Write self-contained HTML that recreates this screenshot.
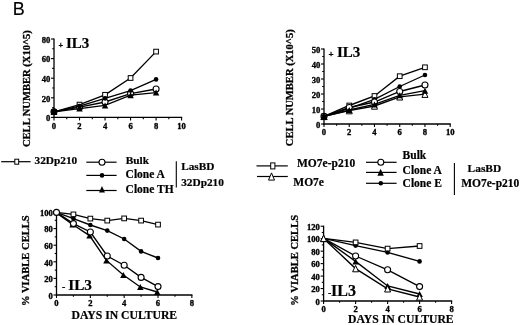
<!DOCTYPE html>
<html><head><meta charset="utf-8"><title>Figure B</title>
<style>html,body{margin:0;padding:0;background:#fff}svg{display:block}</style></head>
<body>
<svg width="520" height="325" viewBox="0 0 520 325">
<rect width="520" height="325" fill="#fff"/>
<text x="12.80" y="15.20" font-size="17.5" font-weight="normal" text-anchor="start" font-family='"Liberation Sans", sans-serif' stroke="#000" stroke-width="0.15" textLength="12" lengthAdjust="spacingAndGlyphs">B</text>
<line x1="54.00" y1="38.40" x2="54.00" y2="118.00" stroke="#000" stroke-width="1.3"/>
<line x1="53.40" y1="117.40" x2="182.20" y2="117.40" stroke="#000" stroke-width="1.3"/>
<line x1="54.00" y1="117.40" x2="54.00" y2="120.40" stroke="#000" stroke-width="1.1"/>
<text x="54.00" y="128.60" font-size="8.6" font-weight="bold" text-anchor="middle" font-family='"Liberation Serif", serif' stroke="#000" stroke-width="0.35">0</text>
<line x1="66.76" y1="117.40" x2="66.76" y2="119.20" stroke="#000" stroke-width="1.1"/>
<line x1="79.52" y1="117.40" x2="79.52" y2="120.40" stroke="#000" stroke-width="1.1"/>
<text x="79.52" y="128.60" font-size="8.6" font-weight="bold" text-anchor="middle" font-family='"Liberation Serif", serif' stroke="#000" stroke-width="0.35">2</text>
<line x1="92.28" y1="117.40" x2="92.28" y2="119.20" stroke="#000" stroke-width="1.1"/>
<line x1="105.04" y1="117.40" x2="105.04" y2="120.40" stroke="#000" stroke-width="1.1"/>
<text x="105.04" y="128.60" font-size="8.6" font-weight="bold" text-anchor="middle" font-family='"Liberation Serif", serif' stroke="#000" stroke-width="0.35">4</text>
<line x1="117.80" y1="117.40" x2="117.80" y2="119.20" stroke="#000" stroke-width="1.1"/>
<line x1="130.56" y1="117.40" x2="130.56" y2="120.40" stroke="#000" stroke-width="1.1"/>
<text x="130.56" y="128.60" font-size="8.6" font-weight="bold" text-anchor="middle" font-family='"Liberation Serif", serif' stroke="#000" stroke-width="0.35">6</text>
<line x1="143.32" y1="117.40" x2="143.32" y2="119.20" stroke="#000" stroke-width="1.1"/>
<line x1="156.08" y1="117.40" x2="156.08" y2="120.40" stroke="#000" stroke-width="1.1"/>
<text x="156.08" y="128.60" font-size="8.6" font-weight="bold" text-anchor="middle" font-family='"Liberation Serif", serif' stroke="#000" stroke-width="0.35">8</text>
<line x1="168.84" y1="117.40" x2="168.84" y2="119.20" stroke="#000" stroke-width="1.1"/>
<line x1="181.60" y1="117.40" x2="181.60" y2="120.40" stroke="#000" stroke-width="1.1"/>
<text x="181.60" y="128.60" font-size="8.6" font-weight="bold" text-anchor="middle" font-family='"Liberation Serif", serif' stroke="#000" stroke-width="0.35">10</text>
<line x1="54.00" y1="117.40" x2="51.00" y2="117.40" stroke="#000" stroke-width="1.1"/>
<text x="50.30" y="121.10" font-size="8.6" font-weight="bold" text-anchor="end" font-family='"Liberation Serif", serif' stroke="#000" stroke-width="0.35">0</text>
<line x1="54.00" y1="107.60" x2="52.20" y2="107.60" stroke="#000" stroke-width="1.1"/>
<line x1="54.00" y1="97.80" x2="51.00" y2="97.80" stroke="#000" stroke-width="1.1"/>
<text x="50.30" y="101.50" font-size="8.6" font-weight="bold" text-anchor="end" font-family='"Liberation Serif", serif' stroke="#000" stroke-width="0.35">20</text>
<line x1="54.00" y1="88.00" x2="52.20" y2="88.00" stroke="#000" stroke-width="1.1"/>
<line x1="54.00" y1="78.20" x2="51.00" y2="78.20" stroke="#000" stroke-width="1.1"/>
<text x="50.30" y="81.90" font-size="8.6" font-weight="bold" text-anchor="end" font-family='"Liberation Serif", serif' stroke="#000" stroke-width="0.35">40</text>
<line x1="54.00" y1="68.40" x2="52.20" y2="68.40" stroke="#000" stroke-width="1.1"/>
<line x1="54.00" y1="58.60" x2="51.00" y2="58.60" stroke="#000" stroke-width="1.1"/>
<text x="50.30" y="62.30" font-size="8.6" font-weight="bold" text-anchor="end" font-family='"Liberation Serif", serif' stroke="#000" stroke-width="0.35">60</text>
<line x1="54.00" y1="48.80" x2="52.20" y2="48.80" stroke="#000" stroke-width="1.1"/>
<line x1="54.00" y1="39.00" x2="51.00" y2="39.00" stroke="#000" stroke-width="1.1"/>
<text x="50.30" y="42.70" font-size="8.6" font-weight="bold" text-anchor="end" font-family='"Liberation Serif", serif' stroke="#000" stroke-width="0.35">80</text>
<polyline fill="none" stroke="#000" stroke-width="1.35" points="54.00,111.80 79.52,104.60 105.04,94.80 130.56,78.00 156.08,51.60"/>
<rect x="51.65" y="109.45" width="4.7" height="4.7" fill="#fff" stroke="#000" stroke-width="1.0"/>
<rect x="77.17" y="102.25" width="4.7" height="4.7" fill="#fff" stroke="#000" stroke-width="1.0"/>
<rect x="102.69" y="92.45" width="4.7" height="4.7" fill="#fff" stroke="#000" stroke-width="1.0"/>
<rect x="128.21" y="75.65" width="4.7" height="4.7" fill="#fff" stroke="#000" stroke-width="1.0"/>
<rect x="153.73" y="49.25" width="4.7" height="4.7" fill="#fff" stroke="#000" stroke-width="1.0"/>
<polyline fill="none" stroke="#000" stroke-width="1.35" points="54.00,111.80 79.52,107.20 105.04,102.00 130.56,93.60 156.08,89.00"/>
<circle cx="54.00" cy="111.80" r="3.0" fill="#fff" stroke="#000" stroke-width="1.1"/>
<circle cx="79.52" cy="107.20" r="3.0" fill="#fff" stroke="#000" stroke-width="1.1"/>
<circle cx="105.04" cy="102.00" r="3.0" fill="#fff" stroke="#000" stroke-width="1.1"/>
<circle cx="130.56" cy="93.60" r="3.0" fill="#fff" stroke="#000" stroke-width="1.1"/>
<circle cx="156.08" cy="89.00" r="3.0" fill="#fff" stroke="#000" stroke-width="1.1"/>
<polyline fill="none" stroke="#000" stroke-width="1.35" points="54.00,111.80 79.52,106.20 105.04,98.40 130.56,90.60 156.08,79.40"/>
<circle cx="54.00" cy="111.80" r="2.3" fill="#000"/>
<circle cx="79.52" cy="106.20" r="2.3" fill="#000"/>
<circle cx="105.04" cy="98.40" r="2.3" fill="#000"/>
<circle cx="130.56" cy="90.60" r="2.3" fill="#000"/>
<circle cx="156.08" cy="79.40" r="2.3" fill="#000"/>
<polyline fill="none" stroke="#000" stroke-width="1.35" points="54.00,111.80 79.52,108.60 105.04,105.40 130.56,95.20 156.08,92.60"/>
<polygon points="54.00,108.80 57.25,114.80 50.75,114.80" fill="#000"/>
<polygon points="79.52,105.60 82.77,111.60 76.27,111.60" fill="#000"/>
<polygon points="105.04,102.40 108.29,108.40 101.79,108.40" fill="#000"/>
<polygon points="130.56,92.20 133.81,98.20 127.31,98.20" fill="#000"/>
<polygon points="156.08,89.60 159.33,95.60 152.83,95.60" fill="#000"/>
<circle cx="54.00" cy="111.60" r="2.9" fill="#000"/>
<polygon points="54.00,108.20 57.40,114.60 50.60,114.60" fill="#000"/>
<text x="58.40" y="48.40" font-size="8" font-weight="bold" text-anchor="start" font-family='"Liberation Serif", serif' stroke="#000" stroke-width="0.35">+</text>
<text x="66.00" y="48.00" font-size="15" font-weight="bold" text-anchor="start" font-family='"Liberation Serif", serif' stroke="#000" stroke-width="0.2">IL3</text>
<text transform="translate(30.00,88.60) rotate(-90)" font-size="10.55" font-weight="bold" text-anchor="middle" font-family='"Liberation Serif", serif' stroke="#000" stroke-width="0.3">CELL NUMBER (X10^5)</text>
<line x1="324.00" y1="48.40" x2="324.00" y2="124.60" stroke="#000" stroke-width="1.3"/>
<line x1="323.40" y1="124.00" x2="450.80" y2="124.00" stroke="#000" stroke-width="1.3"/>
<line x1="324.00" y1="124.00" x2="324.00" y2="127.00" stroke="#000" stroke-width="1.1"/>
<text x="324.00" y="135.20" font-size="8.6" font-weight="bold" text-anchor="middle" font-family='"Liberation Serif", serif' stroke="#000" stroke-width="0.35">0</text>
<line x1="336.62" y1="124.00" x2="336.62" y2="125.80" stroke="#000" stroke-width="1.1"/>
<line x1="349.24" y1="124.00" x2="349.24" y2="127.00" stroke="#000" stroke-width="1.1"/>
<text x="349.24" y="135.20" font-size="8.6" font-weight="bold" text-anchor="middle" font-family='"Liberation Serif", serif' stroke="#000" stroke-width="0.35">2</text>
<line x1="361.86" y1="124.00" x2="361.86" y2="125.80" stroke="#000" stroke-width="1.1"/>
<line x1="374.48" y1="124.00" x2="374.48" y2="127.00" stroke="#000" stroke-width="1.1"/>
<text x="374.48" y="135.20" font-size="8.6" font-weight="bold" text-anchor="middle" font-family='"Liberation Serif", serif' stroke="#000" stroke-width="0.35">4</text>
<line x1="387.10" y1="124.00" x2="387.10" y2="125.80" stroke="#000" stroke-width="1.1"/>
<line x1="399.72" y1="124.00" x2="399.72" y2="127.00" stroke="#000" stroke-width="1.1"/>
<text x="399.72" y="135.20" font-size="8.6" font-weight="bold" text-anchor="middle" font-family='"Liberation Serif", serif' stroke="#000" stroke-width="0.35">6</text>
<line x1="412.34" y1="124.00" x2="412.34" y2="125.80" stroke="#000" stroke-width="1.1"/>
<line x1="424.96" y1="124.00" x2="424.96" y2="127.00" stroke="#000" stroke-width="1.1"/>
<text x="424.96" y="135.20" font-size="8.6" font-weight="bold" text-anchor="middle" font-family='"Liberation Serif", serif' stroke="#000" stroke-width="0.35">8</text>
<line x1="437.58" y1="124.00" x2="437.58" y2="125.80" stroke="#000" stroke-width="1.1"/>
<line x1="450.20" y1="124.00" x2="450.20" y2="127.00" stroke="#000" stroke-width="1.1"/>
<text x="450.20" y="135.20" font-size="8.6" font-weight="bold" text-anchor="middle" font-family='"Liberation Serif", serif' stroke="#000" stroke-width="0.35">10</text>
<line x1="324.00" y1="124.00" x2="321.00" y2="124.00" stroke="#000" stroke-width="1.1"/>
<text x="320.30" y="127.70" font-size="8.6" font-weight="bold" text-anchor="end" font-family='"Liberation Serif", serif' stroke="#000" stroke-width="0.35">0</text>
<line x1="324.00" y1="116.50" x2="322.20" y2="116.50" stroke="#000" stroke-width="1.1"/>
<line x1="324.00" y1="109.00" x2="321.00" y2="109.00" stroke="#000" stroke-width="1.1"/>
<text x="320.30" y="112.70" font-size="8.6" font-weight="bold" text-anchor="end" font-family='"Liberation Serif", serif' stroke="#000" stroke-width="0.35">10</text>
<line x1="324.00" y1="101.50" x2="322.20" y2="101.50" stroke="#000" stroke-width="1.1"/>
<line x1="324.00" y1="94.00" x2="321.00" y2="94.00" stroke="#000" stroke-width="1.1"/>
<text x="320.30" y="97.70" font-size="8.6" font-weight="bold" text-anchor="end" font-family='"Liberation Serif", serif' stroke="#000" stroke-width="0.35">20</text>
<line x1="324.00" y1="86.50" x2="322.20" y2="86.50" stroke="#000" stroke-width="1.1"/>
<line x1="324.00" y1="79.00" x2="321.00" y2="79.00" stroke="#000" stroke-width="1.1"/>
<text x="320.30" y="82.70" font-size="8.6" font-weight="bold" text-anchor="end" font-family='"Liberation Serif", serif' stroke="#000" stroke-width="0.35">30</text>
<line x1="324.00" y1="71.50" x2="322.20" y2="71.50" stroke="#000" stroke-width="1.1"/>
<line x1="324.00" y1="64.00" x2="321.00" y2="64.00" stroke="#000" stroke-width="1.1"/>
<text x="320.30" y="67.70" font-size="8.6" font-weight="bold" text-anchor="end" font-family='"Liberation Serif", serif' stroke="#000" stroke-width="0.35">40</text>
<line x1="324.00" y1="56.50" x2="322.20" y2="56.50" stroke="#000" stroke-width="1.1"/>
<line x1="324.00" y1="49.00" x2="321.00" y2="49.00" stroke="#000" stroke-width="1.1"/>
<text x="320.30" y="52.70" font-size="8.6" font-weight="bold" text-anchor="end" font-family='"Liberation Serif", serif' stroke="#000" stroke-width="0.35">50</text>
<polyline fill="none" stroke="#000" stroke-width="1.35" points="324.00,116.40 349.24,110.60 374.48,106.00 399.72,96.80 424.96,94.20"/>
<polygon points="324.00,113.20 327.00,119.60 321.00,119.60" fill="#fff" stroke="#000" stroke-width="1.0"/>
<polygon points="349.24,107.40 352.24,113.80 346.24,113.80" fill="#fff" stroke="#000" stroke-width="1.0"/>
<polygon points="374.48,102.80 377.48,109.20 371.48,109.20" fill="#fff" stroke="#000" stroke-width="1.0"/>
<polygon points="399.72,93.60 402.72,100.00 396.72,100.00" fill="#fff" stroke="#000" stroke-width="1.0"/>
<polygon points="424.96,91.00 427.96,97.40 421.96,97.40" fill="#fff" stroke="#000" stroke-width="1.0"/>
<polyline fill="none" stroke="#000" stroke-width="1.35" points="324.00,116.40 349.24,105.50 374.48,96.00 399.72,76.20 424.96,67.30"/>
<rect x="321.65" y="114.05" width="4.7" height="4.7" fill="#fff" stroke="#000" stroke-width="1.0"/>
<rect x="346.89" y="103.15" width="4.7" height="4.7" fill="#fff" stroke="#000" stroke-width="1.0"/>
<rect x="372.13" y="93.65" width="4.7" height="4.7" fill="#fff" stroke="#000" stroke-width="1.0"/>
<rect x="397.37" y="73.85" width="4.7" height="4.7" fill="#fff" stroke="#000" stroke-width="1.0"/>
<rect x="422.61" y="64.95" width="4.7" height="4.7" fill="#fff" stroke="#000" stroke-width="1.0"/>
<polyline fill="none" stroke="#000" stroke-width="1.35" points="324.00,116.40 349.24,108.30 374.48,99.40 399.72,86.50 424.96,75.00"/>
<circle cx="324.00" cy="116.40" r="2.3" fill="#000"/>
<circle cx="349.24" cy="108.30" r="2.3" fill="#000"/>
<circle cx="374.48" cy="99.40" r="2.3" fill="#000"/>
<circle cx="399.72" cy="86.50" r="2.3" fill="#000"/>
<circle cx="424.96" cy="75.00" r="2.3" fill="#000"/>
<polyline fill="none" stroke="#000" stroke-width="1.35" points="324.00,116.40 349.24,107.50 374.48,102.00 399.72,91.50 424.96,85.00"/>
<circle cx="324.00" cy="116.40" r="3.0" fill="#fff" stroke="#000" stroke-width="1.1"/>
<circle cx="349.24" cy="107.50" r="3.0" fill="#fff" stroke="#000" stroke-width="1.1"/>
<circle cx="374.48" cy="102.00" r="3.0" fill="#fff" stroke="#000" stroke-width="1.1"/>
<circle cx="399.72" cy="91.50" r="3.0" fill="#fff" stroke="#000" stroke-width="1.1"/>
<circle cx="424.96" cy="85.00" r="3.0" fill="#fff" stroke="#000" stroke-width="1.1"/>
<polyline fill="none" stroke="#000" stroke-width="1.35" points="324.00,116.40 349.24,110.00 374.48,104.40 399.72,95.30 424.96,90.70"/>
<polygon points="324.00,113.40 327.25,119.40 320.75,119.40" fill="#000"/>
<polygon points="349.24,107.00 352.49,113.00 345.99,113.00" fill="#000"/>
<polygon points="374.48,101.40 377.73,107.40 371.23,107.40" fill="#000"/>
<polygon points="399.72,92.30 402.97,98.30 396.47,98.30" fill="#000"/>
<polygon points="424.96,87.70 428.21,93.70 421.71,93.70" fill="#000"/>
<circle cx="324.00" cy="116.60" r="2.6" fill="#000"/>
<polygon points="324.00,113.10 327.60,119.70 320.40,119.70" fill="#000"/>
<text x="328.40" y="57.30" font-size="9" font-weight="bold" text-anchor="start" font-family='"Liberation Serif", serif' stroke="#000" stroke-width="0.35">+</text>
<text x="337.00" y="56.50" font-size="15" font-weight="bold" text-anchor="start" font-family='"Liberation Serif", serif' stroke="#000" stroke-width="0.2">IL3</text>
<text transform="translate(293.00,87.70) rotate(-90)" font-size="10.55" font-weight="bold" text-anchor="middle" font-family='"Liberation Serif", serif' stroke="#000" stroke-width="0.3">CELL NUMBER (X10^5)</text>
<line x1="56.50" y1="211.40" x2="56.50" y2="295.60" stroke="#000" stroke-width="1.3"/>
<line x1="55.90" y1="295.00" x2="192.46" y2="295.00" stroke="#000" stroke-width="1.3"/>
<line x1="56.50" y1="295.00" x2="56.50" y2="298.00" stroke="#000" stroke-width="1.1"/>
<text x="56.50" y="306.20" font-size="8.6" font-weight="bold" text-anchor="middle" font-family='"Liberation Serif", serif' stroke="#000" stroke-width="0.35">0</text>
<line x1="73.42" y1="295.00" x2="73.42" y2="296.80" stroke="#000" stroke-width="1.1"/>
<line x1="90.34" y1="295.00" x2="90.34" y2="298.00" stroke="#000" stroke-width="1.1"/>
<text x="90.34" y="306.20" font-size="8.6" font-weight="bold" text-anchor="middle" font-family='"Liberation Serif", serif' stroke="#000" stroke-width="0.35">2</text>
<line x1="107.26" y1="295.00" x2="107.26" y2="296.80" stroke="#000" stroke-width="1.1"/>
<line x1="124.18" y1="295.00" x2="124.18" y2="298.00" stroke="#000" stroke-width="1.1"/>
<text x="124.18" y="306.20" font-size="8.6" font-weight="bold" text-anchor="middle" font-family='"Liberation Serif", serif' stroke="#000" stroke-width="0.35">4</text>
<line x1="141.10" y1="295.00" x2="141.10" y2="296.80" stroke="#000" stroke-width="1.1"/>
<line x1="158.02" y1="295.00" x2="158.02" y2="298.00" stroke="#000" stroke-width="1.1"/>
<text x="158.02" y="306.20" font-size="8.6" font-weight="bold" text-anchor="middle" font-family='"Liberation Serif", serif' stroke="#000" stroke-width="0.35">6</text>
<line x1="174.94" y1="295.00" x2="174.94" y2="296.80" stroke="#000" stroke-width="1.1"/>
<line x1="191.86" y1="295.00" x2="191.86" y2="298.00" stroke="#000" stroke-width="1.1"/>
<text x="191.86" y="306.20" font-size="8.6" font-weight="bold" text-anchor="middle" font-family='"Liberation Serif", serif' stroke="#000" stroke-width="0.35">8</text>
<line x1="56.50" y1="295.00" x2="53.50" y2="295.00" stroke="#000" stroke-width="1.1"/>
<text x="52.80" y="298.70" font-size="8.6" font-weight="bold" text-anchor="end" font-family='"Liberation Serif", serif' stroke="#000" stroke-width="0.35">0</text>
<line x1="56.50" y1="286.70" x2="54.70" y2="286.70" stroke="#000" stroke-width="1.1"/>
<line x1="56.50" y1="278.40" x2="53.50" y2="278.40" stroke="#000" stroke-width="1.1"/>
<text x="52.80" y="282.10" font-size="8.6" font-weight="bold" text-anchor="end" font-family='"Liberation Serif", serif' stroke="#000" stroke-width="0.35">20</text>
<line x1="56.50" y1="270.10" x2="54.70" y2="270.10" stroke="#000" stroke-width="1.1"/>
<line x1="56.50" y1="261.80" x2="53.50" y2="261.80" stroke="#000" stroke-width="1.1"/>
<text x="52.80" y="265.50" font-size="8.6" font-weight="bold" text-anchor="end" font-family='"Liberation Serif", serif' stroke="#000" stroke-width="0.35">40</text>
<line x1="56.50" y1="253.50" x2="54.70" y2="253.50" stroke="#000" stroke-width="1.1"/>
<line x1="56.50" y1="245.20" x2="53.50" y2="245.20" stroke="#000" stroke-width="1.1"/>
<text x="52.80" y="248.90" font-size="8.6" font-weight="bold" text-anchor="end" font-family='"Liberation Serif", serif' stroke="#000" stroke-width="0.35">60</text>
<line x1="56.50" y1="236.90" x2="54.70" y2="236.90" stroke="#000" stroke-width="1.1"/>
<line x1="56.50" y1="228.60" x2="53.50" y2="228.60" stroke="#000" stroke-width="1.1"/>
<text x="52.80" y="232.30" font-size="8.6" font-weight="bold" text-anchor="end" font-family='"Liberation Serif", serif' stroke="#000" stroke-width="0.35">80</text>
<line x1="56.50" y1="220.30" x2="54.70" y2="220.30" stroke="#000" stroke-width="1.1"/>
<line x1="56.50" y1="212.00" x2="53.50" y2="212.00" stroke="#000" stroke-width="1.1"/>
<text x="52.80" y="215.70" font-size="8.6" font-weight="bold" text-anchor="end" font-family='"Liberation Serif", serif' stroke="#000" stroke-width="0.35">100</text>
<polyline fill="none" stroke="#000" stroke-width="1.35" points="56.50,212.40 73.42,214.40 90.34,218.60 107.26,220.60 124.18,218.40 141.10,220.60 158.02,224.60"/>
<rect x="71.07" y="212.05" width="4.7" height="4.7" fill="#fff" stroke="#000" stroke-width="1.0"/>
<rect x="87.99" y="216.25" width="4.7" height="4.7" fill="#fff" stroke="#000" stroke-width="1.0"/>
<rect x="104.91" y="218.25" width="4.7" height="4.7" fill="#fff" stroke="#000" stroke-width="1.0"/>
<rect x="121.83" y="216.05" width="4.7" height="4.7" fill="#fff" stroke="#000" stroke-width="1.0"/>
<rect x="138.75" y="218.25" width="4.7" height="4.7" fill="#fff" stroke="#000" stroke-width="1.0"/>
<rect x="155.67" y="222.25" width="4.7" height="4.7" fill="#fff" stroke="#000" stroke-width="1.0"/>
<polyline fill="none" stroke="#000" stroke-width="1.35" points="56.50,212.40 73.42,218.60 90.34,225.00 107.26,230.60 124.18,239.00 141.10,251.40 158.02,258.00"/>
<circle cx="73.42" cy="218.60" r="2.3" fill="#000"/>
<circle cx="90.34" cy="225.00" r="2.3" fill="#000"/>
<circle cx="107.26" cy="230.60" r="2.3" fill="#000"/>
<circle cx="124.18" cy="239.00" r="2.3" fill="#000"/>
<circle cx="141.10" cy="251.40" r="2.3" fill="#000"/>
<circle cx="158.02" cy="258.00" r="2.3" fill="#000"/>
<polyline fill="none" stroke="#000" stroke-width="1.35" points="55.70,212.40 72.62,224.50 89.54,235.60 106.46,260.40 123.38,275.00 140.30,287.00 157.22,292.00"/>
<polygon points="72.62,221.50 75.87,227.50 69.37,227.50" fill="#000"/>
<polygon points="89.54,232.60 92.79,238.60 86.29,238.60" fill="#000"/>
<polygon points="106.46,257.40 109.71,263.40 103.21,263.40" fill="#000"/>
<polygon points="123.38,272.00 126.63,278.00 120.13,278.00" fill="#000"/>
<polygon points="140.30,284.00 143.55,290.00 137.05,290.00" fill="#000"/>
<polygon points="157.22,289.00 160.47,295.00 153.97,295.00" fill="#000"/>
<polyline fill="none" stroke="#000" stroke-width="1.35" points="56.50,212.40 73.42,223.60 90.34,232.00 107.26,256.00 124.18,265.20 141.10,277.40 158.02,286.60"/>
<circle cx="56.50" cy="212.40" r="3.0" fill="#fff" stroke="#000" stroke-width="1.1"/>
<circle cx="73.42" cy="223.60" r="3.0" fill="#fff" stroke="#000" stroke-width="1.1"/>
<circle cx="90.34" cy="232.00" r="3.0" fill="#fff" stroke="#000" stroke-width="1.1"/>
<circle cx="107.26" cy="256.00" r="3.0" fill="#fff" stroke="#000" stroke-width="1.1"/>
<circle cx="124.18" cy="265.20" r="3.0" fill="#fff" stroke="#000" stroke-width="1.1"/>
<circle cx="141.10" cy="277.40" r="3.0" fill="#fff" stroke="#000" stroke-width="1.1"/>
<circle cx="158.02" cy="286.60" r="3.0" fill="#fff" stroke="#000" stroke-width="1.1"/>
<text x="62.00" y="289.50" font-size="10" font-weight="bold" text-anchor="start" font-family='"Liberation Serif", serif' stroke="#000" stroke-width="0.2">-</text>
<text x="68.20" y="290.40" font-size="15.3" font-weight="bold" text-anchor="start" font-family='"Liberation Serif", serif' stroke="#000" stroke-width="0.2">IL3</text>
<text transform="translate(28.70,260.70) rotate(-90)" font-size="10.55" font-weight="bold" text-anchor="middle" font-family='"Liberation Serif", serif' stroke="#000" stroke-width="0.3">% VIABLE CELLS</text>
<text x="124.30" y="318.60" font-size="11.7" font-weight="bold" text-anchor="middle" font-family='"Liberation Serif", serif' stroke="#000" stroke-width="0.2">DAYS IN CULTURE</text>
<line x1="323.60" y1="225.64" x2="323.60" y2="301.60" stroke="#000" stroke-width="1.3"/>
<line x1="323.00" y1="301.00" x2="452.20" y2="301.00" stroke="#000" stroke-width="1.3"/>
<line x1="323.60" y1="301.00" x2="323.60" y2="304.00" stroke="#000" stroke-width="1.1"/>
<text x="323.60" y="312.20" font-size="8.6" font-weight="bold" text-anchor="middle" font-family='"Liberation Serif", serif' stroke="#000" stroke-width="0.35">0</text>
<line x1="339.60" y1="301.00" x2="339.60" y2="302.80" stroke="#000" stroke-width="1.1"/>
<line x1="355.60" y1="301.00" x2="355.60" y2="304.00" stroke="#000" stroke-width="1.1"/>
<text x="355.60" y="312.20" font-size="8.6" font-weight="bold" text-anchor="middle" font-family='"Liberation Serif", serif' stroke="#000" stroke-width="0.35">2</text>
<line x1="371.60" y1="301.00" x2="371.60" y2="302.80" stroke="#000" stroke-width="1.1"/>
<line x1="387.60" y1="301.00" x2="387.60" y2="304.00" stroke="#000" stroke-width="1.1"/>
<text x="387.60" y="312.20" font-size="8.6" font-weight="bold" text-anchor="middle" font-family='"Liberation Serif", serif' stroke="#000" stroke-width="0.35">4</text>
<line x1="403.60" y1="301.00" x2="403.60" y2="302.80" stroke="#000" stroke-width="1.1"/>
<line x1="419.60" y1="301.00" x2="419.60" y2="304.00" stroke="#000" stroke-width="1.1"/>
<text x="419.60" y="312.20" font-size="8.6" font-weight="bold" text-anchor="middle" font-family='"Liberation Serif", serif' stroke="#000" stroke-width="0.35">6</text>
<line x1="435.60" y1="301.00" x2="435.60" y2="302.80" stroke="#000" stroke-width="1.1"/>
<line x1="451.60" y1="301.00" x2="451.60" y2="304.00" stroke="#000" stroke-width="1.1"/>
<text x="451.60" y="312.20" font-size="8.6" font-weight="bold" text-anchor="middle" font-family='"Liberation Serif", serif' stroke="#000" stroke-width="0.35">8</text>
<line x1="323.60" y1="301.00" x2="320.60" y2="301.00" stroke="#000" stroke-width="1.1"/>
<text x="319.90" y="304.70" font-size="8.6" font-weight="bold" text-anchor="end" font-family='"Liberation Serif", serif' stroke="#000" stroke-width="0.35">0</text>
<line x1="323.60" y1="294.77" x2="321.80" y2="294.77" stroke="#000" stroke-width="1.1"/>
<line x1="323.60" y1="288.54" x2="320.60" y2="288.54" stroke="#000" stroke-width="1.1"/>
<text x="319.90" y="292.24" font-size="8.6" font-weight="bold" text-anchor="end" font-family='"Liberation Serif", serif' stroke="#000" stroke-width="0.35">20</text>
<line x1="323.60" y1="282.31" x2="321.80" y2="282.31" stroke="#000" stroke-width="1.1"/>
<line x1="323.60" y1="276.08" x2="320.60" y2="276.08" stroke="#000" stroke-width="1.1"/>
<text x="319.90" y="279.78" font-size="8.6" font-weight="bold" text-anchor="end" font-family='"Liberation Serif", serif' stroke="#000" stroke-width="0.35">40</text>
<line x1="323.60" y1="269.85" x2="321.80" y2="269.85" stroke="#000" stroke-width="1.1"/>
<line x1="323.60" y1="263.62" x2="320.60" y2="263.62" stroke="#000" stroke-width="1.1"/>
<text x="319.90" y="267.32" font-size="8.6" font-weight="bold" text-anchor="end" font-family='"Liberation Serif", serif' stroke="#000" stroke-width="0.35">60</text>
<line x1="323.60" y1="257.39" x2="321.80" y2="257.39" stroke="#000" stroke-width="1.1"/>
<line x1="323.60" y1="251.16" x2="320.60" y2="251.16" stroke="#000" stroke-width="1.1"/>
<text x="319.90" y="254.86" font-size="8.6" font-weight="bold" text-anchor="end" font-family='"Liberation Serif", serif' stroke="#000" stroke-width="0.35">80</text>
<line x1="323.60" y1="244.93" x2="321.80" y2="244.93" stroke="#000" stroke-width="1.1"/>
<line x1="323.60" y1="238.70" x2="320.60" y2="238.70" stroke="#000" stroke-width="1.1"/>
<text x="319.90" y="242.40" font-size="8.6" font-weight="bold" text-anchor="end" font-family='"Liberation Serif", serif' stroke="#000" stroke-width="0.35">100</text>
<line x1="323.60" y1="232.47" x2="321.80" y2="232.47" stroke="#000" stroke-width="1.1"/>
<line x1="323.60" y1="226.24" x2="320.60" y2="226.24" stroke="#000" stroke-width="1.1"/>
<text x="319.90" y="229.94" font-size="8.6" font-weight="bold" text-anchor="end" font-family='"Liberation Serif", serif' stroke="#000" stroke-width="0.35">120</text>
<polyline fill="none" stroke="#000" stroke-width="1.35" points="323.60,238.40 355.60,261.40 387.60,286.00 419.60,294.00"/>
<polygon points="355.60,258.40 358.85,264.40 352.35,264.40" fill="#000"/>
<polygon points="387.60,283.00 390.85,289.00 384.35,289.00" fill="#000"/>
<polygon points="419.60,291.00 422.85,297.00 416.35,297.00" fill="#000"/>
<polyline fill="none" stroke="#000" stroke-width="1.35" points="323.60,238.40 355.60,268.60 387.60,288.80 419.60,297.00"/>
<polygon points="323.60,235.20 326.60,241.60 320.60,241.60" fill="#fff" stroke="#000" stroke-width="1.0"/>
<polygon points="355.60,265.40 358.60,271.80 352.60,271.80" fill="#fff" stroke="#000" stroke-width="1.0"/>
<polygon points="387.60,285.60 390.60,292.00 384.60,292.00" fill="#fff" stroke="#000" stroke-width="1.0"/>
<polygon points="419.60,293.80 422.60,300.20 416.60,300.20" fill="#fff" stroke="#000" stroke-width="1.0"/>
<polyline fill="none" stroke="#000" stroke-width="1.35" points="323.60,238.40 355.60,256.00 387.60,269.80 419.60,286.60"/>
<circle cx="355.60" cy="256.00" r="3.0" fill="#fff" stroke="#000" stroke-width="1.1"/>
<circle cx="387.60" cy="269.80" r="3.0" fill="#fff" stroke="#000" stroke-width="1.1"/>
<circle cx="419.60" cy="286.60" r="3.0" fill="#fff" stroke="#000" stroke-width="1.1"/>
<polyline fill="none" stroke="#000" stroke-width="1.35" points="323.60,238.40 355.60,245.60 387.60,252.40 419.60,261.40"/>
<circle cx="355.60" cy="245.60" r="2.3" fill="#000"/>
<circle cx="387.60" cy="252.40" r="2.3" fill="#000"/>
<circle cx="419.60" cy="261.40" r="2.3" fill="#000"/>
<polyline fill="none" stroke="#000" stroke-width="1.35" points="323.60,238.40 355.60,242.40 387.60,248.60 419.60,246.00"/>
<rect x="353.25" y="240.05" width="4.7" height="4.7" fill="#fff" stroke="#000" stroke-width="1.0"/>
<rect x="385.25" y="246.25" width="4.7" height="4.7" fill="#fff" stroke="#000" stroke-width="1.0"/>
<rect x="417.25" y="243.65" width="4.7" height="4.7" fill="#fff" stroke="#000" stroke-width="1.0"/>
<polygon points="323.60,235.20 326.60,241.60 320.60,241.60" fill="#fff" stroke="#000" stroke-width="1.0"/>
<text x="328.00" y="296.00" font-size="10" font-weight="bold" text-anchor="start" font-family='"Liberation Serif", serif' stroke="#000" stroke-width="0.2">-</text>
<text x="331.00" y="296.30" font-size="16" font-weight="bold" text-anchor="start" font-family='"Liberation Serif", serif' stroke="#000" stroke-width="0.2">IL3</text>
<text transform="translate(298.40,260.30) rotate(-90)" font-size="10.55" font-weight="bold" text-anchor="middle" font-family='"Liberation Serif", serif' stroke="#000" stroke-width="0.3">% VIABLE CELLS</text>
<text x="400.80" y="323.00" font-size="11.7" font-weight="bold" text-anchor="middle" font-family='"Liberation Serif", serif' stroke="#000" stroke-width="0.2">DAYS IN CULTURE</text>
<line x1="1.20" y1="161.70" x2="30.60" y2="161.70" stroke="#000" stroke-width="1.2"/>
<rect x="14.8" y="159.2" width="3.9" height="5" fill="#fff" stroke="#000" stroke-width="1"/>
<text x="34.50" y="164.30" font-size="11.3" font-weight="bold" text-anchor="start" font-family='"Liberation Serif", serif' stroke="#000" stroke-width="0.2">32Dp210</text>
<line x1="86.30" y1="162.20" x2="116.60" y2="162.20" stroke="#000" stroke-width="1.2"/>
<circle cx="102.00" cy="162.20" r="3.0" fill="#fff" stroke="#000" stroke-width="1.1"/>
<line x1="86.30" y1="175.40" x2="116.60" y2="175.40" stroke="#000" stroke-width="1.2"/>
<circle cx="102.00" cy="175.40" r="2.3" fill="#000"/>
<line x1="86.30" y1="190.50" x2="116.60" y2="190.50" stroke="#000" stroke-width="1.2"/>
<polygon points="102.00,186.10 104.95,192.50 99.05,192.50" fill="#000"/>
<text x="125.80" y="163.80" font-size="11.3" font-weight="bold" text-anchor="start" font-family='"Liberation Serif", serif' stroke="#000" stroke-width="0.2">Bulk</text>
<text x="125.60" y="178.00" font-size="11.5" font-weight="bold" text-anchor="start" font-family='"Liberation Serif", serif' stroke="#000" stroke-width="0.2">Clone A</text>
<text x="125.60" y="192.50" font-size="11.5" font-weight="bold" text-anchor="start" font-family='"Liberation Serif", serif' stroke="#000" stroke-width="0.2">Clone TH</text>
<line x1="176.30" y1="161.20" x2="176.30" y2="187.50" stroke="#000" stroke-width="1.1"/>
<text x="181.20" y="169.50" font-size="11.3" font-weight="bold" text-anchor="start" font-family='"Liberation Serif", serif' stroke="#000" stroke-width="0.2">LasBD</text>
<text x="181.20" y="186.30" font-size="11.3" font-weight="bold" text-anchor="start" font-family='"Liberation Serif", serif' stroke="#000" stroke-width="0.2">32Dp210</text>
<line x1="256.50" y1="165.90" x2="287.80" y2="165.90" stroke="#000" stroke-width="1.2"/>
<rect x="270.7" y="162.9" width="4.2" height="6" fill="#fff" stroke="#000" stroke-width="1"/>
<line x1="257.00" y1="176.50" x2="287.80" y2="176.50" stroke="#000" stroke-width="1.2"/>
<polygon points="271.50,172.90 274.50,180.10 268.50,180.10" fill="#fff" stroke="#000" stroke-width="1.0"/>
<text x="297.00" y="167.00" font-size="11.5" font-weight="bold" text-anchor="start" font-family='"Liberation Serif", serif' stroke="#000" stroke-width="0.2">MO7e-p210</text>
<text x="293.30" y="185.50" font-size="11.5" font-weight="bold" text-anchor="start" font-family='"Liberation Serif", serif' stroke="#000" stroke-width="0.2">MO7e</text>
<line x1="366.00" y1="162.30" x2="396.60" y2="162.30" stroke="#000" stroke-width="1.2"/>
<circle cx="380.80" cy="162.30" r="3.0" fill="#fff" stroke="#000" stroke-width="1.1"/>
<line x1="366.00" y1="172.40" x2="396.60" y2="172.40" stroke="#000" stroke-width="1.2"/>
<polygon points="380.60,168.70 383.80,175.70 377.40,175.70" fill="#000"/>
<line x1="366.00" y1="183.30" x2="396.60" y2="183.30" stroke="#000" stroke-width="1.2"/>
<circle cx="380.80" cy="183.30" r="2.3" fill="#000"/>
<text x="402.60" y="159.40" font-size="11.5" font-weight="bold" text-anchor="start" font-family='"Liberation Serif", serif' stroke="#000" stroke-width="0.2">Bulk</text>
<text x="402.60" y="174.30" font-size="11.5" font-weight="bold" text-anchor="start" font-family='"Liberation Serif", serif' stroke="#000" stroke-width="0.2">Clone A</text>
<text x="402.60" y="187.00" font-size="11.5" font-weight="bold" text-anchor="start" font-family='"Liberation Serif", serif' stroke="#000" stroke-width="0.2">Clone E</text>
<line x1="454.40" y1="163.00" x2="454.40" y2="195.00" stroke="#000" stroke-width="1.1"/>
<text x="467.60" y="172.20" font-size="11.4" font-weight="bold" text-anchor="start" font-family='"Liberation Serif", serif' stroke="#000" stroke-width="0.2">LasBD</text>
<text x="461.20" y="187.00" font-size="11.5" font-weight="bold" text-anchor="start" font-family='"Liberation Serif", serif' stroke="#000" stroke-width="0.2">MO7e-p210</text>
</svg>
</body></html>
